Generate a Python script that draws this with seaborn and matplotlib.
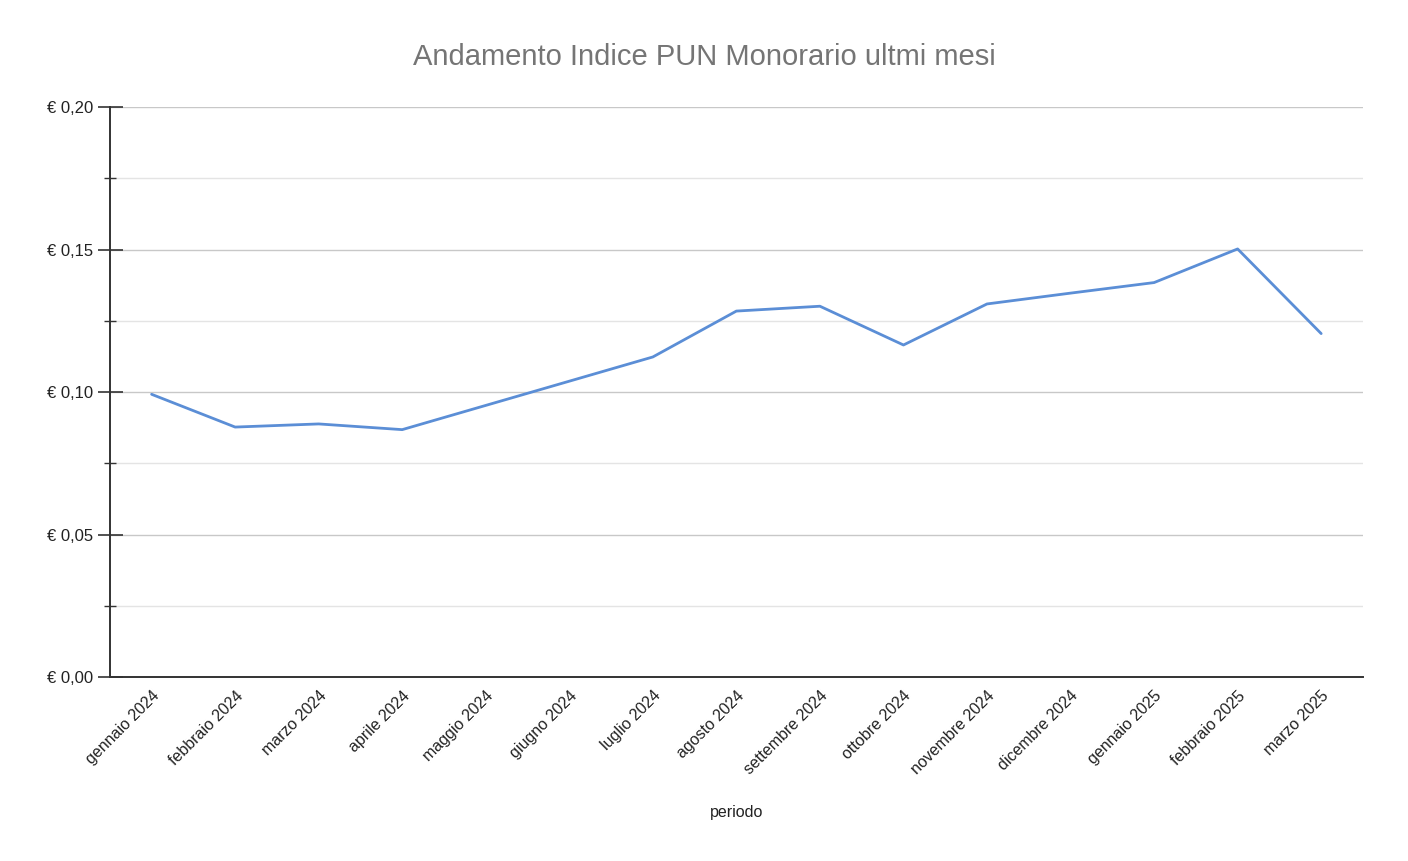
import matplotlib
matplotlib.use("Agg")
import matplotlib.pyplot as plt
from matplotlib.ticker import MultipleLocator, FuncFormatter
import seaborn as sns
import pandas as pd

# valori (euro/kWh)
periodi = ["gennaio 2024", "febbraio 2024", "marzo 2024", "aprile 2024",
           "maggio 2024", "giugno 2024", "luglio 2024", "agosto 2024",
           "settembre 2024", "ottobre 2024", "novembre 2024", "dicembre 2024",
           "gennaio 2025", "febbraio 2025", "marzo 2025"]
pun = [0.0992, 0.0877, 0.0888, 0.0868, 0.0953, 0.1038, 0.1123, 0.1284,
       0.1301, 0.1165, 0.1309, 0.1347, 0.1384, 0.1502, 0.1205]

df = pd.DataFrame({"periodo": periodi, "pun": pun})
df["pos"] = range(len(df))

sns.set_theme(style="white")
plt.rcParams["font.family"] = ["Liberation Sans", "DejaVu Sans"]

fig = plt.figure(figsize=(14.08, 8.61), dpi=100)
ax = fig.add_axes([0.078, 0.2137, 0.89, 0.662])

sns.lineplot(data=df, x="pos", y="pun", ax=ax, color="#5b8ed6", linewidth=2.0)

ax.set_xlim(-0.5, len(periodi) - 0.5)
ax.set_ylim(0, 0.20)
ax.yaxis.set_major_locator(MultipleLocator(0.05))
ax.yaxis.set_minor_locator(MultipleLocator(0.025))
ax.yaxis.set_major_formatter(FuncFormatter(lambda v, p: "€ " + f"{v:.2f}".replace(".", ",")))
ax.grid(True, axis="y", which="major", color="#c8c8c8", linewidth=1.0)
ax.grid(True, axis="y", which="minor", color="#e4e4e4", linewidth=1.0)
ax.set_axisbelow(True)

ax.set_xticks(df["pos"])
ax.set_xticklabels(periodi, rotation=45, ha="right", rotation_mode="anchor",
                   fontsize=11.5, color="#222222")
ax.tick_params(axis="x", length=0, pad=8)
ax.tick_params(axis="y", which="major", left=True, direction="inout", length=18,
               width=1.2, color="#333333", labelsize=12, labelcolor="#222222", pad=3)
ax.tick_params(axis="y", which="minor", left=True, direction="inout", length=9,
               width=1.0, color="#333333")

for s in ["top", "right"]:
    ax.spines[s].set_visible(False)
for s in ["left", "bottom"]:
    ax.spines[s].set_color("#333333")
    ax.spines[s].set_linewidth(1.4)

ax.set_xlabel("periodo", fontsize=11.5, color="#222222", labelpad=20)
ax.set_ylabel("")
fig.suptitle("Andamento Indice PUN Monorario ultmi mesi", x=0.5, y=0.95,
             fontsize=21, color="#757575")

fig.savefig("out.png", dpi=100, facecolor="white")
